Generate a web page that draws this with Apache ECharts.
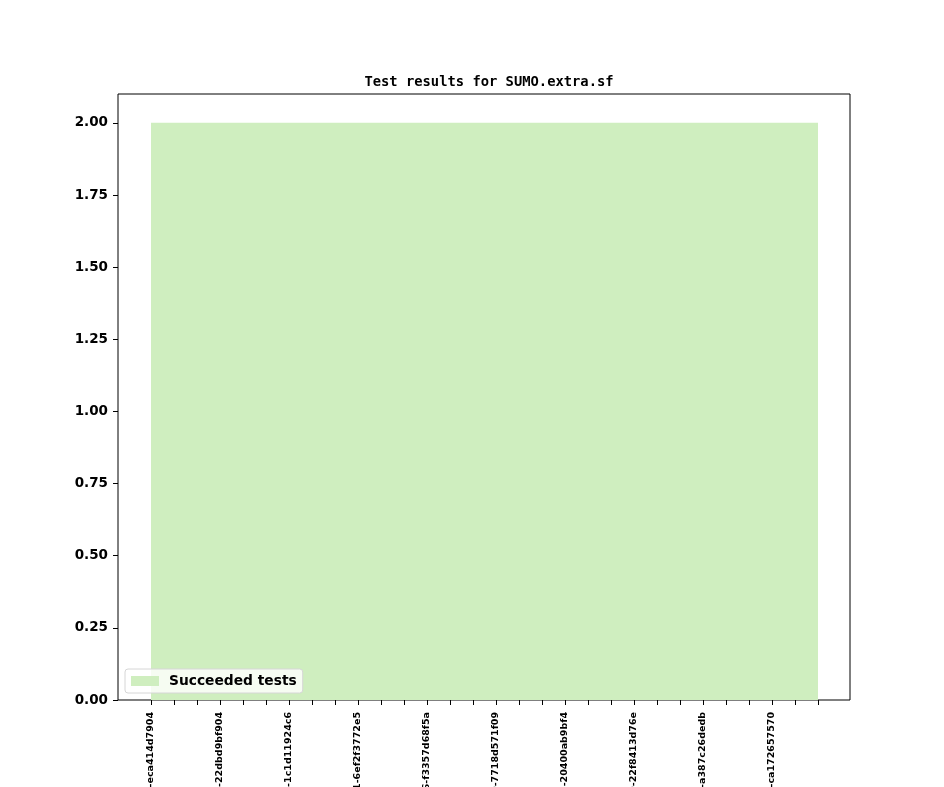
<!DOCTYPE html>
<html>
<head>
<meta charset="utf-8">
<script src="https://cdn.jsdelivr.net/npm/echarts@6/dist/echarts.min.js"></script>
<style>
  html, body { margin: 0; padding: 0; background: #fff; }
  #main { width: 944px; height: 787px; }
</style>
</head>
<body>
<div id="main"></div>
<script>
var chartDom = document.getElementById('main');
var myChart = echarts.init(chartDom);
var option;

// one build per tick, only every third build is labelled
const builds = [
  'v1_19_0+0101-eca414d7904', '', '',
  'v1_19_0+0134-22dbd9bf904', '', '',
  'v1_19_0+0167-1c1d11924c6', '', '',
  'v1_19_0+0201-6ef2f3772e5', '', '',
  'v1_19_0+0236-f3357d68f5a', '', '',
  'v1_19_0+0270-7718d571f09', '', '',
  'v1_19_0+0305-20400ab9bf4', '', '',
  'v1_19_0+0339-22f8413d76e', '', '',
  'v1_19_0+0372-a387c26dedb', '', '',
  'v1_19_0+0408-ca172657570', '', ''
];
const succeeded = [
  2, 2, 2, 2, 2, 2, 2, 2, 2, 2,
  2, 2, 2, 2, 2, 2, 2, 2, 2, 2,
  2, 2, 2, 2, 2, 2, 2, 2, 2, 2
];
const categories = builds.map(function (b, i) { return String(i); });

const green = '#cfeebf';

option = {
  backgroundColor: '#fff',
  animation: false,
  textStyle: { fontFamily: 'DejaVu Sans' },
  title: {
    text: 'Test results for SUMO.extra.sf',
    left: 484,
    top: 70,
    textAlign: 'center',
    textStyle: {
      fontFamily: 'DejaVu Sans Mono',
      fontWeight: 'bold',
      fontSize: 13.8,
      color: '#000'
    }
  },
  legend: {
    data: ['Succeeded tests'],
    left: 125,
    top: 669,
    icon: 'rect',
    itemWidth: 28,
    itemHeight: 10,
    itemGap: 10,
    padding: [5, 6, 5, 6],
    borderColor: '#d6d6d6',
    borderWidth: 1,
    borderRadius: 3,
    backgroundColor: 'rgba(255,255,255,0.8)',
    textStyle: {
      fontFamily: 'DejaVu Sans',
      fontWeight: 'bold',
      fontSize: 13.8,
      color: '#000',
      padding: [0, 0, 0, 5]
    }
  },
  grid: [
    // data area (matplotlib keeps 5% margins inside the frame)
    { left: 151, right: 126, top: 94, bottom: 87, show: false,
      containLabel: false, outerBoundsMode: 'none' },
    // frame
    { left: 118, right: 94, top: 94, bottom: 87, show: true,
      containLabel: false, outerBoundsMode: 'none',
      borderColor: '#000', borderWidth: 1, backgroundColor: 'transparent' }
  ],
  xAxis: [
    {
      type: 'category',
      gridIndex: 0,
      data: categories,
      boundaryGap: false,
      axisLine: { show: false },
      axisTick: { show: true, interval: 0, length: 5, lineStyle: { color: '#000' } },
      axisLabel: {
        interval: 2,
        rotate: 90,
        margin: 12,
        hideOverlap: false,
        fontFamily: 'DejaVu Sans',
        fontWeight: 'bold',
        fontSize: 9.5,
        color: '#000',
        formatter: function (v, i) { return builds[i]; }
      },
      splitLine: { show: false }
    },
    { type: 'value', gridIndex: 1, show: false }
  ],
  yAxis: [
    {
      type: 'value',
      gridIndex: 0,
      min: 0,
      max: 2.1,
      interval: 0.25,
      offset: 33,
      axisLine: { show: false },
      axisTick: { show: true, length: 5, lineStyle: { color: '#000' } },
      axisLabel: {
        showMaxLabel: false,
        margin: 10,
        fontFamily: 'DejaVu Sans',
        fontWeight: 'bold',
        fontSize: 13.5,
        color: '#000',
        formatter: function (v) { return v > 2.0001 ? '' : v.toFixed(2); }
      },
      splitLine: { show: false }
    },
    { type: 'value', gridIndex: 1, show: false }
  ],
  series: [
    {
      name: 'Succeeded tests',
      type: 'line',
      xAxisIndex: 0,
      yAxisIndex: 0,
      stack: 'tests',
      data: succeeded,
      color: green,
      showSymbol: false,
      symbol: 'none',
      lineStyle: { width: 0, color: green },
      areaStyle: { color: green, opacity: 1 }
    }
  ]
};

option && myChart.setOption(option);
</script>
</body>
</html>
